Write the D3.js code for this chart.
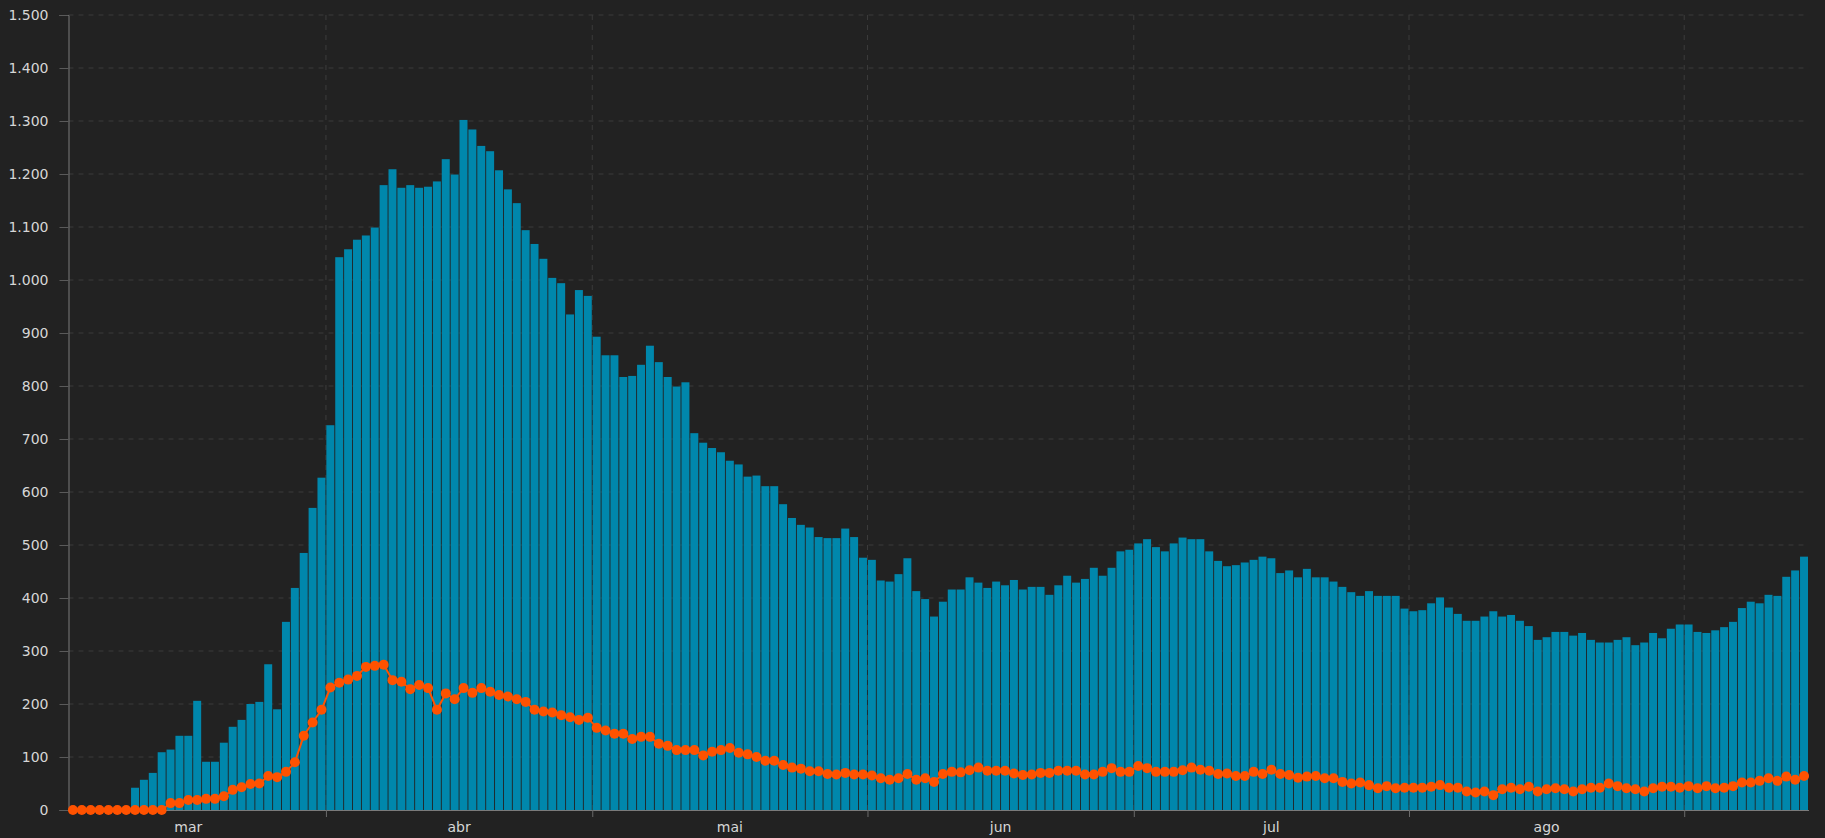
<!DOCTYPE html>
<html lang="pt">
<head>
    <meta charset="UTF-8">
    <title>Casos diários</title>
    <script src="https://d3js.org/d3.v7.min.js"></script>
    <style>
        body {
            margin: 0;
            background: #222222;
            overflow: hidden;
        }
        .axis text {
            fill: #d6d6d6;
            font-family: 'DejaVu Sans', Verdana, sans-serif;
            font-size: 14px;
        }
        .grid line {
            stroke: #3b3b3b;
            stroke-dasharray: 5 5;
        }
    </style>
</head>
<body>
    <div id="chart"></div>
    <script>
        // first day of the series, one value per day after it
        const startDate = new Date(2020, 2, 3);

        // bars (daily values)
        const barValues = [
            0, 0, 0, 0, 0, 0, 0, 42, 57, 70, 109, 114, 140, 140, 206, 91, 91, 127, 157, 170,
            200, 204, 275, 190, 355, 419, 485, 570, 627, 726, 1043, 1058, 1076, 1084, 1099, 1179, 1209, 1174, 1179, 1174,
            1176, 1186, 1228, 1199, 1302, 1284, 1253, 1243, 1207, 1171, 1145, 1094, 1068, 1040, 1004, 994, 935, 981, 970, 893,
            858, 858, 817, 819, 840, 876, 845, 817, 799, 807, 711, 693, 683, 675, 659, 652, 629, 631, 611, 611,
            577, 551, 538, 533, 515, 513, 513, 531, 515, 476, 472, 433, 431, 445, 475, 413, 398, 365, 393, 416,
            416, 439, 429, 419, 431, 424, 434, 416, 421, 421, 406, 424, 442, 429, 436, 457, 442, 457, 488, 491,
            503, 511, 496, 488, 503, 514, 511, 511, 488, 470, 460, 462, 467, 472, 478, 475, 447, 452, 439, 455,
            439, 439, 431, 421, 411, 404, 413, 404, 404, 404, 380, 375, 377, 390, 401, 382, 370, 357, 357, 365,
            375, 365, 368, 357, 347, 321, 326, 336, 336, 329, 334, 321, 316, 316, 321, 326, 311, 316, 334, 324,
            342, 350, 350, 336, 334, 339, 345, 355, 381, 393, 390, 406, 404, 440, 452, 478
        ];

        // orange dots (average line)
        const lineValues = [
            0, 0, 0, 0, 0, 0, 0, 0, 0, 0, 0, 13, 13, 19, 19, 21, 21, 26, 38, 43,
            49, 50, 64, 62, 72, 90, 140, 165, 189, 231, 240, 246, 253, 270, 272, 274, 245, 242, 228, 236,
            230, 189, 220, 209, 230, 221, 230, 223, 217, 214, 209, 204, 189, 186, 184, 179, 175, 170, 174, 155,
            150, 144, 144, 134, 138, 138, 125, 121, 113, 113, 113, 103, 110, 113, 117, 108, 105, 100, 93, 93,
            85, 80, 78, 73, 73, 68, 67, 70, 67, 67, 65, 60, 57, 60, 68, 57, 60, 53, 68, 72,
            71, 75, 80, 74, 74, 74, 69, 66, 67, 70, 70, 74, 74, 74, 67, 67, 72, 79, 72, 72,
            83, 79, 72, 72, 72, 75, 80, 76, 74, 68, 69, 64, 64, 72, 68, 76, 68, 66, 61, 63,
            64, 60, 60, 53, 50, 52, 47, 41, 45, 41, 42, 42, 42, 44, 47, 42, 42, 35, 33, 35,
            28, 39, 42, 39, 44, 35, 39, 41, 39, 35, 39, 42, 42, 50, 45, 41, 39, 35, 41, 44,
            44, 42, 45, 41, 45, 41, 42, 45, 52, 52, 55, 60, 55, 63, 57, 64
        ];

        const monthLabels = ["mar", "abr", "mai", "jun", "jul", "ago"];
        const yTicks = [0, 100, 200, 300, 400, 500, 600, 700, 800, 900, 1000, 1100, 1200, 1300, 1400, 1500];

        const width = 1825;
        const height = 838;
        const margin = { top: 15, right: 16.5, bottom: 28, left: 68.5 };

        const days = barValues.map((v, i) => d3.timeDay.offset(startDate, i));
        const endDate = d3.timeDay.offset(startDate, barValues.length);

        const svg = d3.select("#chart").append("svg")
            .attr("width", width)
            .attr("height", height);

        const x = d3.scaleTime()
            .domain([startDate, endDate])
            .range([margin.left, width - margin.right]);

        const y = d3.scaleLinear()
            .domain([0, 1500])
            .range([height - margin.bottom, margin.top]);

        const ptBR = d3.formatLocale({ decimal: ",", thousands: ".", grouping: [3], currency: ["R$", ""] });
        const fmt = ptBR.format(",d");

        const monthStarts = d3.timeMonth.range(new Date(2020, 2, 1), new Date(2020, 8, 2));
        const dayCenter = i => (x(days[i]) + x(d3.timeDay.offset(days[i], 1))) / 2;

        // grid
        svg.append("g")
            .attr("class", "grid")
            .selectAll("line")
            .data(yTicks.slice(1))
            .join("line")
            .attr("x1", margin.left)
            .attr("x2", width - margin.right)
            .attr("y1", d => y(d))
            .attr("y2", d => y(d));

        svg.append("g")
            .attr("class", "grid")
            .selectAll("line")
            .data(monthStarts.filter(d => d > startDate))
            .join("line")
            .attr("x1", d => x(d))
            .attr("x2", d => x(d))
            .attr("y1", margin.top)
            .attr("y2", y(0));

        // bars
        svg.append("g")
            .selectAll("rect")
            .data(barValues)
            .join("rect")
            .attr("x", (d, i) => x(days[i]) + 0.4)
            .attr("width", (d, i) => x(d3.timeDay.offset(days[i], 1)) - x(days[i]) - 0.9)
            .attr("y", d => y(d))
            .attr("height", d => y(0) - y(d))
            .attr("fill", "#0087ac");

        // y axis
        const yAxis = svg.append("g")
            .attr("class", "axis")
            .attr("transform", `translate(${margin.left},0)`)
            .call(d3.axisLeft(y).tickValues(yTicks).tickFormat(fmt).tickSize(9).tickPadding(11));
        yAxis.select(".domain").attr("stroke", "#7a7a7a");
        yAxis.selectAll(".tick line").attr("stroke", "#5a5a5a");

        // x axis: ticks at month starts, labels in the middle of each month
        const xAxis = svg.append("g")
            .attr("class", "axis")
            .attr("transform", `translate(0,${y(0)})`)
            .call(d3.axisBottom(x).tickValues(monthStarts.filter(d => d > startDate)).tickFormat("").tickSize(7).tickSizeOuter(0));
        xAxis.select(".domain").attr("stroke", "#7a7a7a");
        xAxis.selectAll(".tick line").attr("stroke", "#6a6a6a");

        xAxis.selectAll(".month-label")
            .data(monthLabels)
            .join("text")
            .attr("class", "month-label")
            .attr("x", (d, i) => (x(monthStarts[i]) + x(monthStarts[i + 1])) / 2)
            .attr("y", 22)
            .attr("text-anchor", "middle")
            .text(d => d);

        // orange line + dots
        const line = d3.line()
            .x((d, i) => dayCenter(i))
            .y(d => y(d));

        svg.append("path")
            .datum(lineValues)
            .attr("fill", "none")
            .attr("stroke", "#ff5200")
            .attr("stroke-width", 2)
            .attr("d", line);

        svg.append("g")
            .selectAll("circle")
            .data(lineValues)
            .join("circle")
            .attr("cx", (d, i) => dayCenter(i))
            .attr("cy", d => y(d))
            .attr("r", 5)
            .attr("fill", "#ff5200");
    </script>
</body>
</html>
